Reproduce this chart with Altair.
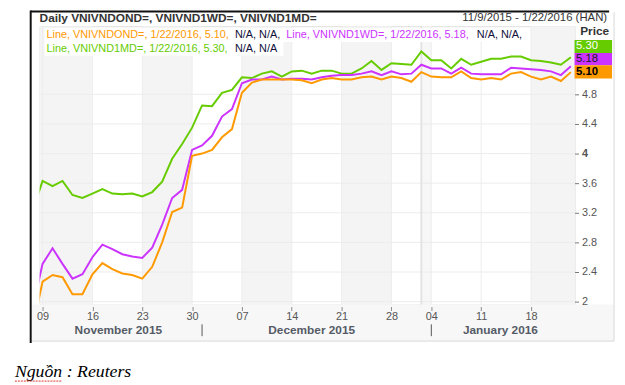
import altair as alt
import pandas as pd

# ---------------- data ----------------
holidays = ["2016-01-01"]
all_days = [d.strftime("%Y-%m-%d") for d in pd.bdate_range("2015-11-06", "2016-01-25")
            if d.strftime("%Y-%m-%d") not in holidays]
pos = {d: i - 1 for i, d in enumerate(all_days)}   # 2015-11-09 -> 0 (trading-day index)
dates = all_days[:-1]                               # 2015-11-06 .. 2016-01-22

series_names = ["VNIVNDOND=", "VNIVND1WD=", "VNIVND1MD="]
series_colors = ["#ff9900", "#cc33ff", "#66cc00"]

ond = [1.64, 2.27, 2.36, 2.33, 2.10, 2.10, 2.37, 2.52, 2.44, 2.38, 2.36, 2.31, 2.47, 2.80, 3.21,
       3.27, 3.97, 4.00, 4.05, 4.22, 4.33, 4.82, 4.96, 5.00, 5.00, 5.00, 5.00, 4.99, 4.95, 5.00,
       5.02, 5.00, 5.00, 5.03, 5.04, 5.00, 5.04, 5.02, 4.97, 5.10, 5.04, 5.03, 5.03, 5.11, 5.02,
       5.00, 5.02, 5.00, 5.08, 5.10, 5.04, 5.00, 5.04, 4.98, 5.10]
wd = [1.91, 2.51, 2.72, 2.51, 2.31, 2.37, 2.60, 2.77, 2.71, 2.64, 2.61, 2.59, 2.73, 3.04, 3.40,
      3.51, 4.05, 4.11, 4.24, 4.50, 4.60, 4.95, 5.00, 5.00, 5.04, 5.00, 5.01, 5.01, 5.00, 5.03,
      5.05, 5.06, 5.06, 5.08, 5.11, 5.06, 5.11, 5.07, 5.08, 5.20, 5.15, 5.15, 5.08, 5.16, 5.08,
      5.07, 5.07, 5.07, 5.16, 5.15, 5.14, 5.13, 5.11, 5.06, 5.18]
md = [3.23, 3.63, 3.56, 3.63, 3.44, 3.40, 3.46, 3.52, 3.46, 3.45, 3.46, 3.42, 3.48, 3.62, 3.93,
      4.13, 4.35, 4.65, 4.64, 4.82, 4.86, 5.03, 5.02, 5.08, 5.11, 5.04, 5.11, 5.12, 5.08, 5.12,
      5.12, 5.08, 5.08, 5.15, 5.25, 5.13, 5.22, 5.21, 5.20, 5.38, 5.26, 5.26, 5.15, 5.28, 5.20,
      5.24, 5.28, 5.28, 5.31, 5.31, 5.26, 5.25, 5.23, 5.20, 5.30]
series_values = [ond, wd, md]

y_ticks = [2, 2.4, 2.8, 3.2, 3.6, 4, 4.4, 4.8]
shaded_weeks = [("2015-11-06", "2015-11-16"), ("2015-11-23", "2015-11-30"),
                ("2015-12-07", "2015-12-14"), ("2015-12-21", "2015-12-28"),
                ("2016-01-18", "2016-01-25")]
year_gap = ("2015-12-31", "2016-01-04")
months = [("2015-11", "November 2015"), ("2015-12", "December 2015"), ("2016-01", "January 2016")]

title_text = "Daily " + ", ".join(series_names)
range_text = "11/9/2015 - 1/22/2016 (HAN)"
source_text = "Nguồn : Reuters"
last_date_text = "1/22/2016"

# ---------------- derived tables ----------------
rows = []
for name, vals in zip(series_names, series_values):
    for d, v in zip(dates, vals):
        rows.append({"date": d, "i": pos[d], "value": v, "series": name})
df = pd.DataFrame(rows)

X_MIN, X_MAX = -0.3, 53.37
Y_MIN, Y_MAX = 1.96, 5.72
W, H = 542, 282

mondays = [d for d in dates if pd.Timestamp(d).weekday() == 0 and pos[d] >= 0]
tick_idx = [pos[d] for d in mondays]
tick_lab = [d[-2:] for d in mondays]
label_expr = "[" + ",".join("'%s'" % t for t in tick_lab) + "][indexof([" + \
    ",".join(str(t) for t in tick_idx) + "], datum.value)]"

xs = alt.Scale(domain=[X_MIN, X_MAX], nice=False, zero=False)
ys = alt.Scale(domain=[Y_MIN, Y_MAX], nice=False, zero=False)
FONT = "Liberation Sans"

x_axis = alt.Axis(values=tick_idx, labelExpr=label_expr, grid=False, domain=False,
                  ticks=True, tickColor="#8a8a8a", tickSize=4, offset=2, labelPadding=0,
                  labelFont=FONT, labelFontSize=11, labelColor="#555555",
                  labelBaseline="top", title=None, zindex=2)
y_axis = alt.Axis(orient="right", values=y_ticks, format=".1~f", grid=False,
                  domain=False, tickColor="#777777", tickSize=4,
                  labelPadding=3, labelFont=FONT, labelFontSize=11,
                  labelColor="#555555", title=None, zindex=2,
                  labelFontWeight={"condition": {"test": "datum.value == 4", "value": "bold"},
                                   "value": "normal"})


def X(field):
    return alt.X(field, scale=xs, axis=x_axis, title=None)


def Y(field):
    return alt.Y(field, scale=ys, axis=y_axis, title=None)


band_df = pd.DataFrame({"a": [pos[a] for a, b in shaded_weeks], "b": [pos[b] for a, b in shaded_weeks]})
gap_df = pd.DataFrame({"a": [pos[year_gap[0]]], "b": [pos[year_gap[1]]]})
grid_df = pd.DataFrame({"a": tick_idx})
hgrid_df = pd.DataFrame({"v": y_ticks})

month_rows = []
month_starts = []
for key, lab in months:
    idxs = [pos[d] for d in dates if d.startswith(key)]
    a = max(min(idxs) - 0.5, X_MIN)
    b = min(max(idxs) + 0.5, X_MAX)
    month_rows.append({"a": (a + b) / 2, "label": lab})
    if min(idxs) > 0:
        month_starts.append({"a": min(idxs)})
month_df = pd.DataFrame(month_rows)
msep_df = pd.DataFrame(month_starts)


def txt(s, x, y, color="#000000", size=11, weight="normal", align="left", font=FONT,
        style="normal", baseline="middle"):
    return alt.Chart(pd.DataFrame({"t": [s]})).mark_text(
        align=align, baseline=baseline, font=font, fontSize=size, fontWeight=weight,
        fontStyle=style, color=color
    ).encode(x=alt.value(x), y=alt.value(y), text="t:N")


def box(x, x2, y, y2, color):
    return alt.Chart(pd.DataFrame({"t": [0]})).mark_rect(color=color).encode(
        x=alt.value(x), x2=alt.value(x2), y=alt.value(y), y2=alt.value(y2))


def rule(x, x2, y, y2, color, sw=1, dash=None):
    kw = {"color": color, "strokeWidth": sw}
    if dash:
        kw["strokeDash"] = dash
    return alt.Chart(pd.DataFrame({"t": [0]})).mark_rule(**kw).encode(
        x=alt.value(x), x2=alt.value(x2), y=alt.value(y), y2=alt.value(y2))


# frame / background pieces
bottom_strip = box(-8, 582, 282, 319, "#f7f7f7")
frame_bottom = rule(-8, 582, 319, 319, "#d8d8d8")
frame_right = rule(582, 582, -14, 319, "#d8d8d8")
frame_left = rule(-9, -9, -16, 321, "#111111", 2)
frame_top = rule(-9, 577, -15, -15, "#111111", 2)

bands = alt.Chart(band_df).mark_rect(color="#f4f4f4", clip=True).encode(x=X("a:Q"), x2="b:Q")
gap = alt.Chart(gap_df).mark_rect(color="#f7f7f7", clip=True).encode(x=X("a:Q"), x2="b:Q")
year_line = alt.Chart(gap_df).mark_rule(color="#e3e3e3", strokeWidth=2).encode(x=X("a:Q"))
vgrid = alt.Chart(grid_df).mark_rule(color="#ededed", strokeWidth=1).encode(x=X("a:Q"))
hgrid = alt.Chart(hgrid_df).mark_rule(color="#ececec", strokeWidth=1).encode(y=Y("v:Q"))

base_lines = alt.Chart(df).mark_line(strokeWidth=2, clip=True).encode(
    x=X("i:Q"),
    y=Y("value:Q"),
    color=alt.Color("series:N", scale=alt.Scale(domain=series_names, range=series_colors),
                    legend=None),
    order=alt.Order("i:Q"),
    detail="series:N",
)
lines_green = base_lines.transform_filter(alt.datum.series == series_names[2])
lines_mag = base_lines.transform_filter(alt.datum.series == series_names[1])
lines_or = base_lines.transform_filter(alt.datum.series == series_names[0])

month_labels = alt.Chart(month_df).mark_text(
    font=FONT, fontSize=12, fontWeight="bold", color="#555b66", baseline="middle"
).encode(x=X("a:Q"), y=alt.value(308), text="label:N")
month_seps = alt.Chart(msep_df).mark_rule(color="#555555", strokeWidth=1).encode(
    x=X("a:Q"), y=alt.value(302), y2=alt.value(314))

# legend text inside plot
seg1 = "Line, %s, %s, %.2f, " % (series_names[0], last_date_text, ond[-1])
seg2 = "Line, %s, %s, %.2f, " % (series_names[1], last_date_text, wd[-1])
seg3 = "Line, %s, %s, %.2f, " % (series_names[2], last_date_text, md[-1])
na1 = "N/A, N/A, "
na2 = "N/A, N/A"
legend_bg1 = box(5, 495, 2, 16, "#ffffff")
legend_bg2 = box(5, 247, 16, 30, "#ffffff")
NAVY = "#10103a"
legend_texts = [
    txt(seg1, 7, 9, series_colors[0]),
    txt(na1, 198, 9, NAVY),
    txt(seg2, 250, 9, series_colors[1]),
    txt(na1, 443, 9, NAVY),
    txt(seg3, 7, 23, series_colors[2]),
    txt(na2, 198, 23, NAVY),
]

# header
header = [
    txt(title_text, 0, -8, "#333333", 12, "bold"),
    txt(range_text, 575, -8, "#333333", 11.5, align="right"),
    txt("Price", 577, 5, "#333333", 12, "bold", align="right"),
]

# price boxes
price = [
    box(542, 580, 14, 27, series_colors[2]),
    box(542, 580, 27, 39.5, series_colors[1]),
    box(542, 580, 39.5, 53, series_colors[0]),
    txt("%.2f" % md[-1], 543.5, 20.5, "#ffffff", 11.5),
    txt("%.2f" % wd[-1], 543.5, 33.5, "#1a1a1a", 11.5),
    txt("%.2f" % ond[-1], 543.5, 46.5, "#000000", 11.5, "bold"),
]

source = txt(source_text, -25, 355, "#000000", 18, font="Liberation Serif", style="italic",
             baseline="alphabetic")
squiggle = rule(-25, 23, 359.5, 359.5, "#e03030", 1, [2, 1])

chart = alt.layer(
    bottom_strip, frame_bottom, frame_right, frame_left, frame_top,
    bands, gap, hgrid, vgrid, year_line,
    lines_green, lines_mag, lines_or,
    month_labels, month_seps,
    legend_bg1, legend_bg2, *legend_texts,
    *header, *price, source, squiggle,
).properties(
    width=W, height=H,
    padding={"left": 32, "top": 16, "right": 43, "bottom": 79},
    autosize=alt.AutoSizeParams(type="none"),
).configure_view(stroke="#c8c8c8", strokeWidth=1).configure(background="#ffffff")

chart.save("out.html", embed_options={"renderer": "svg", "actions": False})
